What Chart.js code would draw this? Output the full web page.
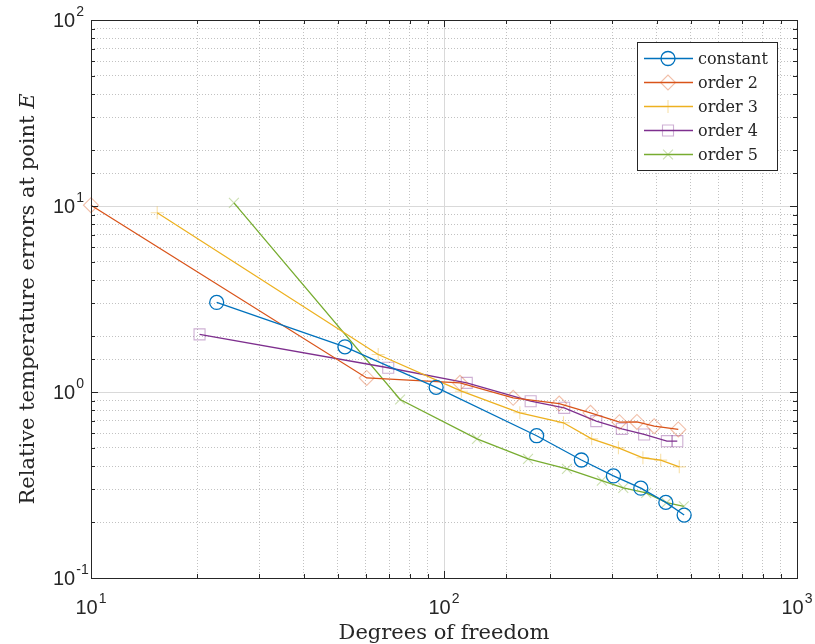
<!DOCTYPE html>
<html><head><meta charset="utf-8">
<script src="https://cdn.jsdelivr.net/npm/chart.js@4.4.1/dist/chart.umd.min.js"></script>
<style>html,body{margin:0;padding:0;background:#fff}#wrap{width:815px;height:644px}</style>
</head><body><div id="wrap"><canvas id="c" width="815" height="644"></canvas></div>
<script>
// ---- data ----
const seriesNames = ['constant', 'order 2', 'order 3', 'order 4', 'order 5'];

const constantX = [22.7, 52.4, 95.0, 183, 245, 302, 361, 425, 479];
const constantY = [3.03, 1.75, 1.06, 0.582, 0.431, 0.354, 0.304, 0.255, 0.218];

const order2X = [10, 60.4, 111, 157, 212, 260, 314, 352, 394, 461];
const order2Y = [10.1, 1.19, 1.12, 0.931, 0.867, 0.773, 0.688, 0.69, 0.655, 0.629];

const order3X = [15.4, 65.1, 112, 164, 218, 262, 312, 366, 411, 464];
const order3Y = [9.19, 1.59, 1.01, 0.773, 0.683, 0.560, 0.501, 0.443, 0.430, 0.396];

const order4X = [20.3, 69.5, 116, 176, 219, 270, 319, 369, 428, 458];
const order4Y = [2.04, 1.35, 1.12, 0.892, 0.822, 0.697, 0.634, 0.591, 0.544, 0.544];

const order5X = [25.4, 75.1, 124, 173, 223, 280, 322, 374, 427, 478];
const order5Y = [10.4, 0.911, 0.56, 0.437, 0.386, 0.334, 0.305, 0.287, 0.254, 0.243];

const xTickExponents = [1, 2, 3];
const yTickExponents = [-1, 0, 1, 2];
const xAxisTitle = 'Degrees of freedom';
const yAxisTitle = 'Relative temperature errors at point ';
const yAxisTitleItalic = 'E';

// ---- styles ----
const seriesColors = ['#0072BD', '#D95319', '#EDB120', '#7E2F8E', '#77AC30'];
const markerAlphas = [1, 0.38, 0.38, 0.38, 0.38];
const pointStyles = ['circle', 'rectRot', 'cross', 'rect', 'crossRot'];
const pointRadii = [7, 7.5, 6.5, 7.8, 7];
const AXIS_COLOR = '#262626';
const TITLE_FONT_PX = 21;

function rgba(hex, a) {
  const n = parseInt(hex.slice(1), 16);
  return `rgba(${(n >> 16) & 255},${(n >> 8) & 255},${n & 255},${a})`;
}
function isMajor(v) {
  const l = Math.log10(v);
  return Math.abs(l - Math.round(l)) < 1e-6;
}

const xs = [constantX, order2X, order3X, order4X, order5X];
const ys = [constantY, order2Y, order3Y, order4Y, order5Y];

const datasets = seriesNames.map((name, i) => ({
  label: name,
  data: xs[i].map((x, j) => ({ x: x, y: ys[i][j] })),
  showLine: true,
  borderColor: seriesColors[i],
  borderWidth: 1.3,
  tension: 0,
  pointStyle: pointStyles[i],
  pointRadius: pointRadii[i],
  pointHoverRadius: pointRadii[i],
  pointBackgroundColor: 'rgba(0,0,0,0)',
  pointBorderColor: rgba(seriesColors[i], markerAlphas[i]),
  pointBorderWidth: i === 0 ? 1.3 : 1.1,
  clip: false
}));

function drawMarker(ctx, style, x, y, r) {
  ctx.beginPath();
  const s = r * Math.SQRT1_2;
  switch (style) {
    case 'circle': ctx.arc(x, y, r, 0, Math.PI * 2); break;
    case 'rectRot': ctx.moveTo(x - r, y); ctx.lineTo(x, y - r); ctx.lineTo(x + r, y); ctx.lineTo(x, y + r); ctx.closePath(); break;
    case 'cross': ctx.moveTo(x, y - r); ctx.lineTo(x, y + r); ctx.moveTo(x - r, y); ctx.lineTo(x + r, y); break;
    case 'rect': ctx.rect(x - s, y - s, 2 * s, 2 * s); break;
    case 'crossRot': ctx.moveTo(x - s, y - s); ctx.lineTo(x + s, y + s); ctx.moveTo(x + s, y - s); ctx.lineTo(x - s, y + s); break;
  }
  ctx.stroke();
}

function drawPow(ctx, exp, x, baseY, mode) {
  const base = '10', e = String(exp);
  ctx.font = '20px "Liberation Sans", Arial, sans-serif';
  const wb = ctx.measureText(base).width;
  ctx.font = '14px "Liberation Sans", Arial, sans-serif';
  const we = ctx.measureText(e).width;
  const total = wb + we + 1;
  let left = mode === 'center' ? x - total / 2 : x;
  ctx.textAlign = 'left';
  ctx.textBaseline = 'alphabetic';
  ctx.font = '20px "Liberation Sans", Arial, sans-serif';
  ctx.fillText(base, left, baseY);
  ctx.font = '14px "Liberation Sans", Arial, sans-serif';
  ctx.fillText(e, left + wb + 1, baseY - 11);
}

const matlabAxes = {
  id: 'matlabAxes',
  afterDatasetsDraw(chart) {
    const ctx = chart.ctx, a = chart.chartArea;
    const sx = chart.scales.x, sy = chart.scales.y;
    ctx.save();
    ctx.strokeStyle = AXIS_COLOR;
    ctx.lineWidth = 1;
    ctx.beginPath();
    sx.ticks.forEach(t => {
      const p = Math.round(sx.getPixelForValue(t.value)) + 0.5;
      const len = isMajor(t.value) ? 7 : 4;
      ctx.moveTo(p, a.bottom); ctx.lineTo(p, a.bottom - len);
      ctx.moveTo(p, a.top); ctx.lineTo(p, a.top + len);
    });
    sy.ticks.forEach(t => {
      const p = Math.round(sy.getPixelForValue(t.value)) + 0.5;
      const len = isMajor(t.value) ? 7 : 4;
      ctx.moveTo(a.left, p); ctx.lineTo(a.left + len, p);
      ctx.moveTo(a.right, p); ctx.lineTo(a.right - len, p);
    });
    ctx.stroke();
    ctx.strokeRect(Math.round(a.left) + 0.5, Math.round(a.top) + 0.5, Math.round(a.right - a.left), Math.round(a.bottom - a.top));
    ctx.restore();
  },
  afterDraw(chart) {
    const ctx = chart.ctx, a = chart.chartArea;
    const sx = chart.scales.x, sy = chart.scales.y;
    ctx.save();
    ctx.fillStyle = AXIS_COLOR;
    // tick labels
    xTickExponents.forEach(e => {
      const px = sx.getPixelForValue(Math.pow(10, e));
      drawPow(ctx, e, px, a.bottom + 36, 'center');
    });
    yTickExponents.forEach(e => {
      const py = sy.getPixelForValue(Math.pow(10, e));
      drawPow(ctx, e, 53, py + 7, 'left');
    });
    // axis titles
    const tf = TITLE_FONT_PX + 'px "DejaVu Serif", serif';
    const tfi = 'italic ' + tf;
    ctx.font = tf;
    ctx.textAlign = 'center';
    ctx.textBaseline = 'alphabetic';
    ctx.fillText(xAxisTitle, (a.left + a.right) / 2, 639);

    ctx.save();
    ctx.translate(34, (a.top + a.bottom) / 2);
    ctx.rotate(-Math.PI / 2);
    ctx.font = tf;
    const w1 = ctx.measureText(yAxisTitle).width;
    ctx.font = tfi;
    const w2 = ctx.measureText(yAxisTitleItalic).width;
    const start = -(w1 + w2) / 2;
    ctx.textAlign = 'left';
    ctx.font = tf;
    ctx.fillText(yAxisTitle, start, 0);
    ctx.font = tfi;
    ctx.fillText(yAxisTitleItalic, start + w1, 0);
    ctx.restore();

    // legend
    const lx = 637, ly = 42, lw = 140, lh = 128;
    ctx.fillStyle = '#ffffff';
    ctx.fillRect(lx, ly, lw, lh);
    ctx.strokeStyle = AXIS_COLOR;
    ctx.lineWidth = 1;
    ctx.strokeRect(lx + 0.5, ly + 0.5, lw, lh);
    seriesNames.forEach((name, i) => {
      const ry = ly + 16 + i * 24;
      ctx.strokeStyle = seriesColors[i];
      ctx.lineWidth = 1.3;
      ctx.beginPath();
      ctx.moveTo(lx + 7, ry + 0.5); ctx.lineTo(lx + 56, ry + 0.5);
      ctx.stroke();
      ctx.strokeStyle = rgba(seriesColors[i], markerAlphas[i]);
      ctx.lineWidth = i === 0 ? 1.3 : 1.1;
      drawMarker(ctx, pointStyles[i], lx + 31, ry + 0.5, pointRadii[i]);
      ctx.fillStyle = AXIS_COLOR;
      ctx.font = '16px "DejaVu Serif", serif';
      ctx.textAlign = 'left';
      ctx.textBaseline = 'alphabetic';
      ctx.fillText(name, lx + 61, ry + 5.5);
    });
    ctx.restore();
  }
};

new Chart(document.getElementById('c'), {
  type: 'scatter',
  data: { datasets: datasets },
  options: {
    responsive: false,
    animation: false,
    events: [],
    layout: { padding: { top: 20, right: 18, left: 0, bottom: 0 } },
    plugins: { legend: { display: false }, tooltip: { enabled: false }, title: { display: false } },
    scales: {
      x: {
        type: 'logarithmic', min: 10, max: 1000,
        ticks: { display: false },
        grid: {
          drawTicks: false, lineWidth: 1,
          color: c => (c.tick && isMajor(c.tick.value)) ? '#d9d9d9' : '#c2c2c2'
        },
        border: { display: false, dash: c => (c.tick && !isMajor(c.tick.value)) ? [1, 2] : [] },
        title: { display: false },
        afterFit: s => { s.height = 66; }
      },
      y: {
        type: 'logarithmic', min: 0.1, max: 100,
        ticks: { display: false },
        grid: {
          drawTicks: false, lineWidth: 1,
          color: c => (c.tick && isMajor(c.tick.value)) ? '#d9d9d9' : '#c2c2c2'
        },
        border: { display: false, dash: c => (c.tick && !isMajor(c.tick.value)) ? [1, 2] : [] },
        title: { display: false },
        afterFit: s => { s.width = 91; }
      }
    }
  },
  plugins: [matlabAxes]
});
</script>
</body></html>
